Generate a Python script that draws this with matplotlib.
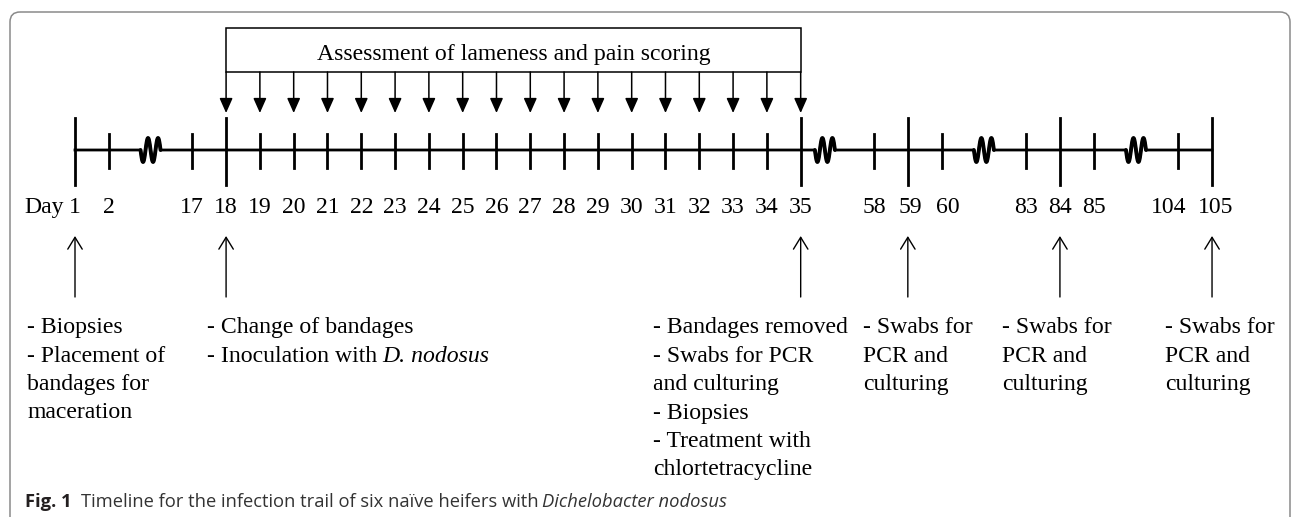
import numpy as np
import matplotlib.pyplot as plt
from matplotlib.patches import FancyBboxPatch, FancyArrowPatch, Rectangle, ArrowStyle

# Timeline content
days = [1, 2, 17] + list(range(18, 36)) + [58, 59, 60, 83, 84, 85, 104, 105]
major_days = [1, 18, 35, 59, 84, 105]
breaks_after = [2, 35, 60, 85]
scored_days = list(range(18, 36))
box_label = 'Assessment of lameness and pain scoring'

event_days = [1, 18, 35, 59, 84, 105]
event_lines = [
    ['- Biopsies', '- Placement of', 'bandages for', 'maceration'],
    ['- Change of bandages', [('- Inoculation with', 'normal'), ('D. nodosus', 'italic')]],
    ['- Bandages removed', '- Swabs for PCR', 'and culturing', '- Biopsies',
     '- Treatment with', 'chlortetracycline'],
    ['- Swabs for', 'PCR and', 'culturing'],
    ['- Swabs for', 'PCR and', 'culturing'],
    ['- Swabs for', 'PCR and', 'culturing'],
]
caption_runs = [('Fig. 1', 'bold', 'normal'),
                ('Timeline for the infection trail of six naïve heifers with', 'normal', 'normal'),
                ('Dichelobacter nodosus', 'normal', 'italic')]

# Layout (pixel units, y grows downwards)
W, H = 1293, 517
X0, UNIT, LINE_Y = 75, 33.8, 150
break_width = [2.47, 2.17, 2.5, 2.5]
break_frac = [0.5, 0.33, 0.5, 0.5]
label_dx = {59: 3, 60: 6, 104: -10, 105: 4}
text_dx = [-48, -19, -148, -45, -58, -47]
SERIF = 'Liberation Serif'
SANS = 'Open Sans'
FS = 17.1
LW = 2.0


def day_positions():
    pos, s, prev = {}, 0.0, None
    for d in days:
        if prev is not None:
            s += break_width[breaks_after.index(prev)] if prev in breaks_after else 1
        pos[d] = X0 + s * UNIT
        prev = d
    return pos


def setup():
    fig = plt.figure(figsize=(W / 100, H / 100), dpi=100)
    ax = fig.add_axes([0, 0, 1, 1])
    ax.set_xlim(0, W)
    ax.set_ylim(H, 0)
    ax.axis('off')
    return fig, ax


def draw_frame(ax):
    frame = FancyBboxPatch((10, 12), 1280, 600, boxstyle='round,pad=0,rounding_size=10',
                           fc='none', ec='#8a8a8a', lw=1.1)
    ax.add_patch(frame)


def draw_axis(ax, pos):
    xs, ys = [pos[days[0]]], [LINE_Y]
    for i, d in enumerate(breaks_after):
        nxt = days[days.index(d) + 1]
        cx = pos[d] + break_frac[i] * (pos[nxt] - pos[d])
        t = np.linspace(0, 1, 60)
        wx = cx - 10 + 20 * t
        wy = LINE_Y + 12 * np.sin(2 * np.pi * 2 * t)
        xs += list(wx)
        ys += list(wy)
        # squiggles are drawn a bit heavier than the axis
        ax.plot(wx, wy, color='black', lw=2.8, solid_capstyle='round')
    xs.append(pos[days[-1]])
    ys.append(LINE_Y)
    ax.plot(xs, ys, color='black', lw=LW, solid_joinstyle='round')
    for d in days:
        top, bot = (32, 35) if d in major_days else (16, 18)
        ax.plot([pos[d], pos[d]], [LINE_Y - top, LINE_Y + bot], color='black', lw=LW)
        ax.text(pos[d] + label_dx.get(d, 0), 213, str(d), ha='center', va='baseline',
                family=SERIF, size=FS)
    ax.text(pos[days[0]] - 11, 213, 'Day', ha='right', va='baseline', family=SERIF, size=FS)


def draw_assessment(ax, pos):
    x0, x1 = pos[scored_days[0]], pos[scored_days[-1]]
    ax.add_patch(Rectangle((x0, 28), x1 - x0, 44, fc='none', ec='black', lw=1.1))
    ax.text((x0 + x1) / 2, 60, box_label, ha='center', va='baseline', family=SERIF, size=FS)
    style = ArrowStyle('-|>', head_length=9, head_width=4.0)
    for d in scored_days:
        a = FancyArrowPatch((pos[d], 72), (pos[d], 113), arrowstyle=style, mutation_scale=1,
                            shrinkA=0, shrinkB=0, color='black', lw=1.1)
        ax.add_patch(a)


def write_runs(ax, renderer, x, y, runs, gap, **kw):
    for s, weight, style in runs:
        t = ax.text(x, y, s, ha='left', va='baseline', weight=weight, style=style, **kw)
        x += t.get_window_extent(renderer).width + gap
    return x


def draw_events(ax, renderer, pos):
    style = ArrowStyle('->', head_length=8.5, head_width=5.2)
    for d, lines, dx in zip(event_days, event_lines, text_dx):
        a = FancyArrowPatch((pos[d], 297), (pos[d], 236), arrowstyle=style, mutation_scale=1,
                            shrinkA=0, shrinkB=0, color='black', lw=1.0)
        ax.add_patch(a)
        for i, line in enumerate(lines):
            y = 333 + i * 28.5
            if isinstance(line, str):
                ax.text(pos[d] + dx, y, line, ha='left', va='baseline', family=SERIF, size=FS)
            else:
                runs = [(s, 'normal', st) for s, st in line]
                write_runs(ax, renderer, pos[d] + dx, y, runs, 5, family=SERIF, size=FS)


def draw_caption(ax, renderer):
    x = write_runs(ax, renderer, 25, 507, caption_runs[:1], 9, family=SANS, size=13.2,
                   color='#231f20')
    write_runs(ax, renderer, x, 507, caption_runs[1:], 4, family=SANS, size=13.2,
               color='#333333')


fig, ax = setup()
renderer = fig.canvas.get_renderer()
pos = day_positions()
draw_frame(ax)
draw_assessment(ax, pos)
draw_axis(ax, pos)
draw_events(ax, renderer, pos)
draw_caption(ax, renderer)
fig.savefig('out.png', dpi=100)
